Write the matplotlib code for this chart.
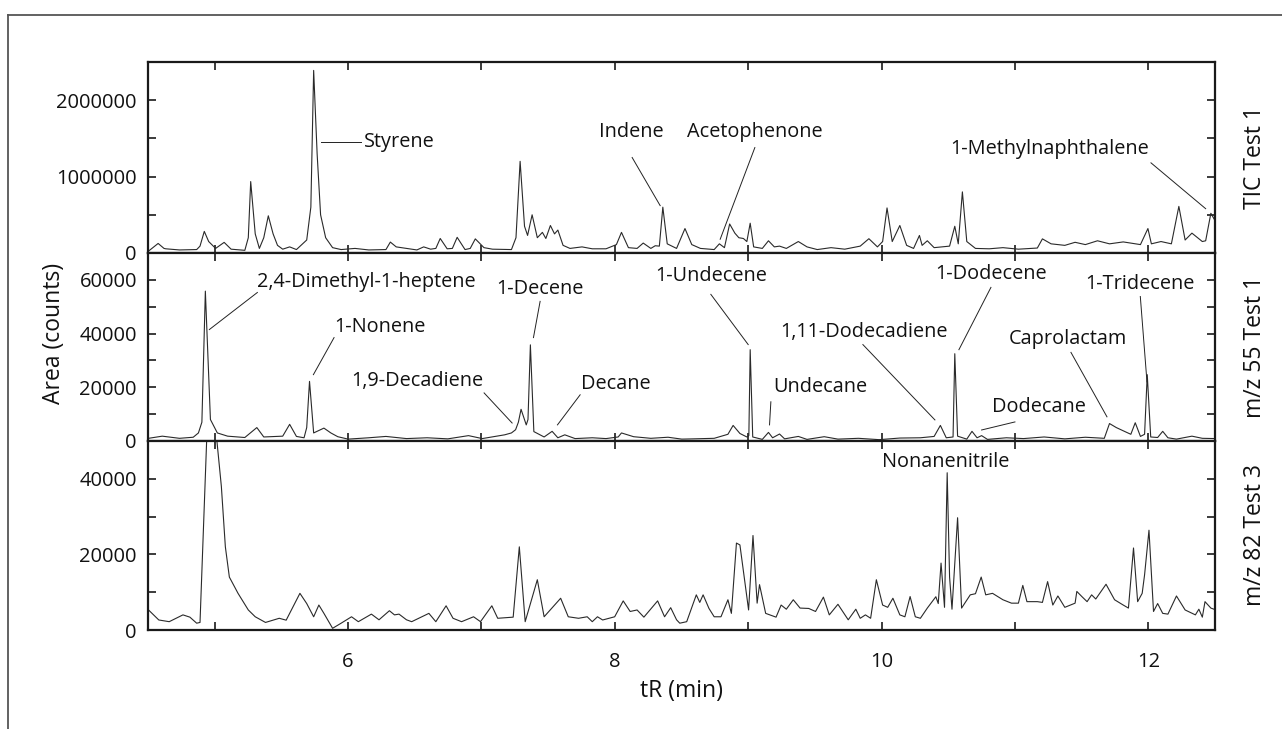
import matplotlib
matplotlib.use("Agg")
import matplotlib.pyplot as plt
from matplotlib.ticker import MultipleLocator, FuncFormatter
from matplotlib.lines import Line2D

plt.rcParams['font.family'] = ['Open Sans', 'DejaVu Sans']

# retention time (min) / area (counts)
tic_t = [4.504, 4.576, 4.62, 4.633, 4.736, 4.865, 4.89, 4.922, 4.955, 5.007, 5.071, 5.123, 5.226,
         5.252, 5.27, 5.304, 5.335, 5.368, 5.402, 5.438, 5.471, 5.51, 5.562, 5.613, 5.69, 5.721,
         5.742, 5.768, 5.794, 5.832, 5.884, 5.948, 6.052, 6.155, 6.284, 6.317, 6.361, 6.438, 6.516,
         6.567, 6.619, 6.658, 6.691, 6.743, 6.782, 6.818, 6.877, 6.916, 6.954, 7.019, 7.083, 7.225,
         7.259, 7.29, 7.323, 7.346, 7.38, 7.419, 7.457, 7.483, 7.517, 7.548, 7.573, 7.612, 7.664,
         7.754, 7.831, 7.934, 8.012, 8.05, 8.102, 8.167, 8.213, 8.27, 8.303, 8.334, 8.36, 8.393,
         8.463, 8.526, 8.577, 8.642, 8.745, 8.784, 8.822, 8.861, 8.9, 8.93, 8.964, 8.99, 9.015,
         9.041, 9.106, 9.152, 9.196, 9.235, 9.286, 9.376, 9.441, 9.518, 9.621, 9.724, 9.84, 9.905,
         9.969, 10.008, 10.041, 10.08, 10.137, 10.188, 10.24, 10.284, 10.304, 10.343, 10.394, 10.51,
         10.549, 10.575, 10.606, 10.639, 10.704, 10.807, 10.91, 11.026, 11.168, 11.206, 11.271,
         11.374, 11.451, 11.528, 11.619, 11.709, 11.812, 11.941, 11.997, 12.023, 12.095, 12.173,
         12.229, 12.276, 12.327, 12.405, 12.43, 12.469, 12.508]
tic_y = [25000, 125000, 60000, 55000, 40000, 45000, 90000, 283000, 150000, 60000, 139000, 50000, 35000,
         200000, 935000, 250000, 60000, 200000, 487000, 250000, 100000, 50000, 80000, 45000, 170000, 600000,
         2390000, 1300000, 500000, 200000, 70000, 45000, 60000, 40000, 45000, 143000, 80000, 60000, 40000,
         80000, 50000, 60000, 190000, 55000, 60000, 205000, 45000, 60000, 185000, 70000, 50000, 45000,
         200000, 1200000, 350000, 230000, 500000, 200000, 270000, 190000, 360000, 250000, 300000, 100000, 60000,
         80000, 55000, 55000, 110000, 270000, 70000, 60000, 130000, 60000, 95000, 90000, 600000, 120000,
         60000, 320000, 110000, 60000, 45000, 120000, 70000, 380000, 260000, 200000, 190000, 150000, 390000,
         80000, 60000, 160000, 80000, 90000, 60000, 150000, 80000, 45000, 70000, 50000, 90000, 187000,
         80000, 150000, 590000, 150000, 360000, 100000, 60000, 230000, 100000, 160000, 70000, 90000,
         350000, 120000, 800000, 150000, 60000, 55000, 70000, 50000, 65000, 185000, 120000,
         100000, 140000, 110000, 160000, 120000, 145000, 110000, 320000, 120000, 150000, 120000,
         610000, 170000, 260000, 150000, 160000, 520000, 400000]

mz55_t = [4.504, 4.607, 4.736, 4.839, 4.878, 4.904, 4.93, 4.968, 5.02, 5.097, 5.226, 5.316, 5.368,
          5.51, 5.562, 5.613, 5.67, 5.69, 5.711, 5.742, 5.819, 5.871, 5.923, 6.0, 6.155, 6.284,
          6.438, 6.593, 6.748, 6.903, 7.006, 7.174, 7.225, 7.256, 7.277, 7.297, 7.336, 7.349, 7.367,
          7.393, 7.47, 7.53, 7.573, 7.625, 7.702, 7.831, 7.934, 8.025, 8.05, 8.141, 8.27, 8.399,
          8.502, 8.59, 8.745, 8.848, 8.887, 8.938, 8.99, 9.005, 9.015, 9.034, 9.106, 9.152, 9.183,
          9.235, 9.273, 9.376, 9.441, 9.57, 9.673, 9.827, 9.982, 10.137, 10.291, 10.394, 10.441,
          10.485, 10.536, 10.549, 10.57, 10.639, 10.678, 10.716, 10.75, 10.794, 10.936, 11.064,
          11.219, 11.374, 11.528, 11.67, 11.709, 11.76, 11.838, 11.869, 11.902, 11.941, 11.972,
          11.992, 12.018, 12.07, 12.108, 12.147, 12.211, 12.327, 12.405, 12.508]
mz55_y = [1000, 1800, 1000, 1400, 3000, 7000, 55800, 8000, 3000, 1800, 1300, 5000, 1500,
          1800, 6200, 1700, 1200, 5000, 22200, 3000, 4800, 3000, 1600, 700, 1200, 1700,
          900, 1200, 800, 2000, 900, 2300, 3000, 4200, 7000, 11800, 6000, 8000, 35800,
          3500, 1500, 3600, 1200, 2300, 900, 1200, 900, 1500, 3000, 1600, 1000, 1400,
          700, 800, 1000, 2500, 5800, 2800, 1500, 2000, 34000, 1500, 600, 3200, 1200,
          2600, 800, 1700, 600, 1600, 700, 1000, 500, 1100, 1200, 1700, 5800,
          1200, 1500, 32500, 1800, 700, 3600, 1200, 2000, 600, 1200, 900,
          1500, 800, 1400, 1000, 6500, 5000, 3200, 2500, 6800, 1700, 2500,
          24700, 1500, 1300, 3600, 1200, 700, 1800, 1000, 900]

mz82_t = [4.504, 4.581, 4.659, 4.762, 4.814, 4.865, 4.89, 4.95, 5.0, 5.05, 5.08, 5.11, 5.175, 5.252,
          5.304, 5.381, 5.484, 5.536, 5.639, 5.69, 5.742, 5.781, 5.819, 5.884, 5.948, 6.026, 6.077,
          6.175, 6.232, 6.31, 6.348, 6.382, 6.438, 6.477, 6.606, 6.658, 6.735, 6.787, 6.851, 6.941,
          6.993, 7.078, 7.122, 7.238, 7.284, 7.328, 7.419, 7.47, 7.594, 7.651, 7.728, 7.793, 7.831,
          7.87, 7.909, 7.999, 8.063, 8.115, 8.167, 8.218, 8.321, 8.373, 8.419, 8.463,
          8.487, 8.539, 8.611, 8.637, 8.662, 8.706, 8.745, 8.796, 8.848, 8.874, 8.912, 8.938, 9.003,
          9.036, 9.067, 9.085, 9.131, 9.209, 9.247, 9.286, 9.338, 9.389, 9.454, 9.505, 9.564, 9.608,
          9.673, 9.75, 9.807, 9.84, 9.879, 9.918, 9.961, 10.008, 10.046, 10.085, 10.137, 10.175,
          10.214, 10.253, 10.291, 10.343, 10.407, 10.425, 10.446, 10.472, 10.492, 10.51, 10.528,
          10.57, 10.6, 10.665, 10.704, 10.747, 10.781, 10.832, 10.91, 10.974, 11.026, 11.059, 11.09,
          11.168, 11.206, 11.245, 11.284, 11.322, 11.374, 11.451, 11.464, 11.503, 11.541, 11.575,
          11.606, 11.683, 11.747, 11.812, 11.851, 11.889, 11.92, 11.954, 11.972, 12.005, 12.039,
          12.07, 12.108, 12.147, 12.211, 12.276, 12.353, 12.379, 12.405, 12.425, 12.469, 12.508]
mz82_y = [5300, 2650, 2200, 4000, 3400, 1800, 2000, 60000, 56000, 38000, 22000, 14000, 9700, 5300,
          3500, 2000, 3100, 2600, 9700, 7000, 3500, 6600, 4400, 450, 1800, 3500, 2200,
          4200, 2700, 5100, 4000, 4200, 2700, 2200, 4400, 2200, 6400, 3100, 2200, 3500,
          2200, 6400, 3100, 3400, 22000, 2200, 13300, 3500, 8400, 3500, 3100, 3500, 2200,
          3500, 2650, 3500, 7700, 4900, 5300, 3400, 7700, 3500, 5900, 2700,
          1800, 2200, 9300, 7300, 9300, 5700, 3500, 3500, 8000, 4400, 23000, 22500, 5300,
          25000, 7100, 12000, 4400, 3400, 6600, 5500, 8000, 5800, 5700, 4900, 8700, 4000,
          6800, 2700, 5500, 3100, 4000, 3100, 13300, 6600, 6000, 8400, 4000, 3500,
          8850, 3500, 3100, 5800, 8800, 7000, 17700, 6000, 41600, 14000, 5500,
          29700, 5800, 9300, 9600, 14000, 9300, 9700, 8000, 7100, 7100, 11800, 7500,
          7500, 7300, 12800, 6600, 9000, 6000, 7100, 10200, 8800, 7500, 9300,
          8200, 12100, 8000, 6600, 5800, 21700, 7500, 9700, 14600, 26400, 4900,
          7000, 4400, 4200, 9000, 5300, 4000, 5500, 3400, 7500, 5800, 5300]

panel_names = ['TIC Test 1', 'm/z 55 Test 1', 'm/z 82 Test 3']
panel_ylim = [2500000, 70000, 50000]
panel_major = [1000000, 20000, 20000]
panel_minor = [500000, 10000, 10000]

W, H = 1282, 729
fig = plt.figure(figsize=(W / 100, H / 100), dpi=100)

left, right = 148 / W, 1215 / W
edges = [62, 253, 441, 630]
axes = []
for i in range(3):
    top = 1 - edges[i] / H
    bot = 1 - edges[i + 1] / H
    ax = fig.add_axes([left, bot, right - left, top - bot])
    axes.append(ax)

series = [(tic_t, tic_y), (mz55_t, mz55_y), (mz82_t, mz82_y)]
for i, ax in enumerate(axes):
    t, y = series[i]
    ax.plot(t, y, color='#2a2a2a', lw=0.8)
    ax.set_xlim(4.5, 12.5)
    ax.set_ylim(0, panel_ylim[i])
    ax.xaxis.set_major_locator(MultipleLocator(2))
    ax.xaxis.set_minor_locator(MultipleLocator(1))
    ax.yaxis.set_major_locator(MultipleLocator(panel_major[i]))
    ax.yaxis.set_minor_locator(MultipleLocator(panel_minor[i]))
    ax.yaxis.set_major_formatter(FuncFormatter(lambda v, p: '%d' % v))
    ax.tick_params(which='both', direction='in', top=True, right=True, length=6, width=1.2,
                   labelsize=14.5, color='#1a1a1a', labelcolor='#111111')
    ax.tick_params(axis='y', pad=8)
    ax.tick_params(axis='x', pad=16)
    for s in ax.spines.values():
        s.set_linewidth(1.6)
        s.set_color('#1a1a1a')
    if i < 2:
        ax.tick_params(labelbottom=False)
    ax.text(1.0375, 0.5, panel_names[i], transform=ax.transAxes, rotation=90,
            ha='center', va='center', fontsize=16.5, color='#111111')

axes[2].set_xlabel('tR (min)', fontsize=16.5, labelpad=5, color='#111111')
fig.text(54 / W, 1 - 333 / H, 'Area (counts)', rotation=90, ha='center', va='center',
         fontsize=16.5, color='#111111')

# peak labels: (panel, text, text x, text y, line from, line to, alignment)
labels = [
    (0, 'Styrene', 6.12, 1450000, (5.80, 1450000), (6.10, 1450000), 'left'),
    (0, 'Indene', 8.12, 1580000, (8.13, 1250000), (8.34, 620000), 'center'),
    (0, 'Acetophenone', 9.05, 1580000, (9.05, 1380000), (8.79, 180000), 'center'),
    (0, '1-Methylnaphthalene', 11.26, 1360000, (12.02, 1180000), (12.43, 580000), 'center'),
    (1, '2,4-Dimethyl-1-heptene', 6.14, 59200, (5.32, 55300), (4.96, 41500), 'center'),
    (1, '1-Nonene', 6.24, 42400, (5.895, 38500), (5.74, 24700), 'center'),
    (1, '1,9-Decadiene', 6.52, 22200, (7.02, 17900), (7.23, 6700), 'center'),
    (1, '1-Decene', 7.44, 56600, (7.44, 52000), (7.39, 38500), 'center'),
    (1, 'Decane', 8.01, 21200, (7.74, 17200), (7.57, 6000), 'center'),
    (1, '1-Undecene', 8.72, 61500, (8.72, 54600), (9.0, 35900), 'center'),
    (1, 'Undecane', 9.54, 20000, (9.17, 14600), (9.16, 6000), 'center'),
    (1, '1,11-Dodecadiene', 9.87, 40600, (9.86, 35900), (10.4, 7850), 'center'),
    (1, '1-Dodecene', 10.82, 62200, (10.82, 57200), (10.58, 34000), 'center'),
    (1, 'Dodecane', 11.18, 12500, (11.0, 7100), (10.75, 4100), 'center'),
    (1, 'Caprolactam', 11.4, 38000, (11.42, 33000), (11.69, 9000), 'center'),
    (1, '1-Tridecene', 11.94, 58500, (11.94, 53800), (11.99, 22000), 'center'),
    (2, 'Nonanenitrile', 10.48, 44500, None, None, 'center'),
]
for p, txt, tx, ty, a, b, ha in labels:
    ax = axes[p]
    ax.text(tx, ty, txt, ha=ha, va='center', fontsize=14.3, color='#111111')
    if a is not None:
        ax.plot([a[0], b[0]], [a[1], b[1]], color='#222222', lw=0.7)

# frame around the figure (top and left edges visible)
fig.add_artist(Line2D([8 / W, 1.0], [1 - 15 / H, 1 - 15 / H], color='#555555', lw=1.3))
fig.add_artist(Line2D([8 / W, 8 / W], [1 - 15 / H, 0.0], color='#555555', lw=1.3))

fig.savefig('out.png', dpi=100)
